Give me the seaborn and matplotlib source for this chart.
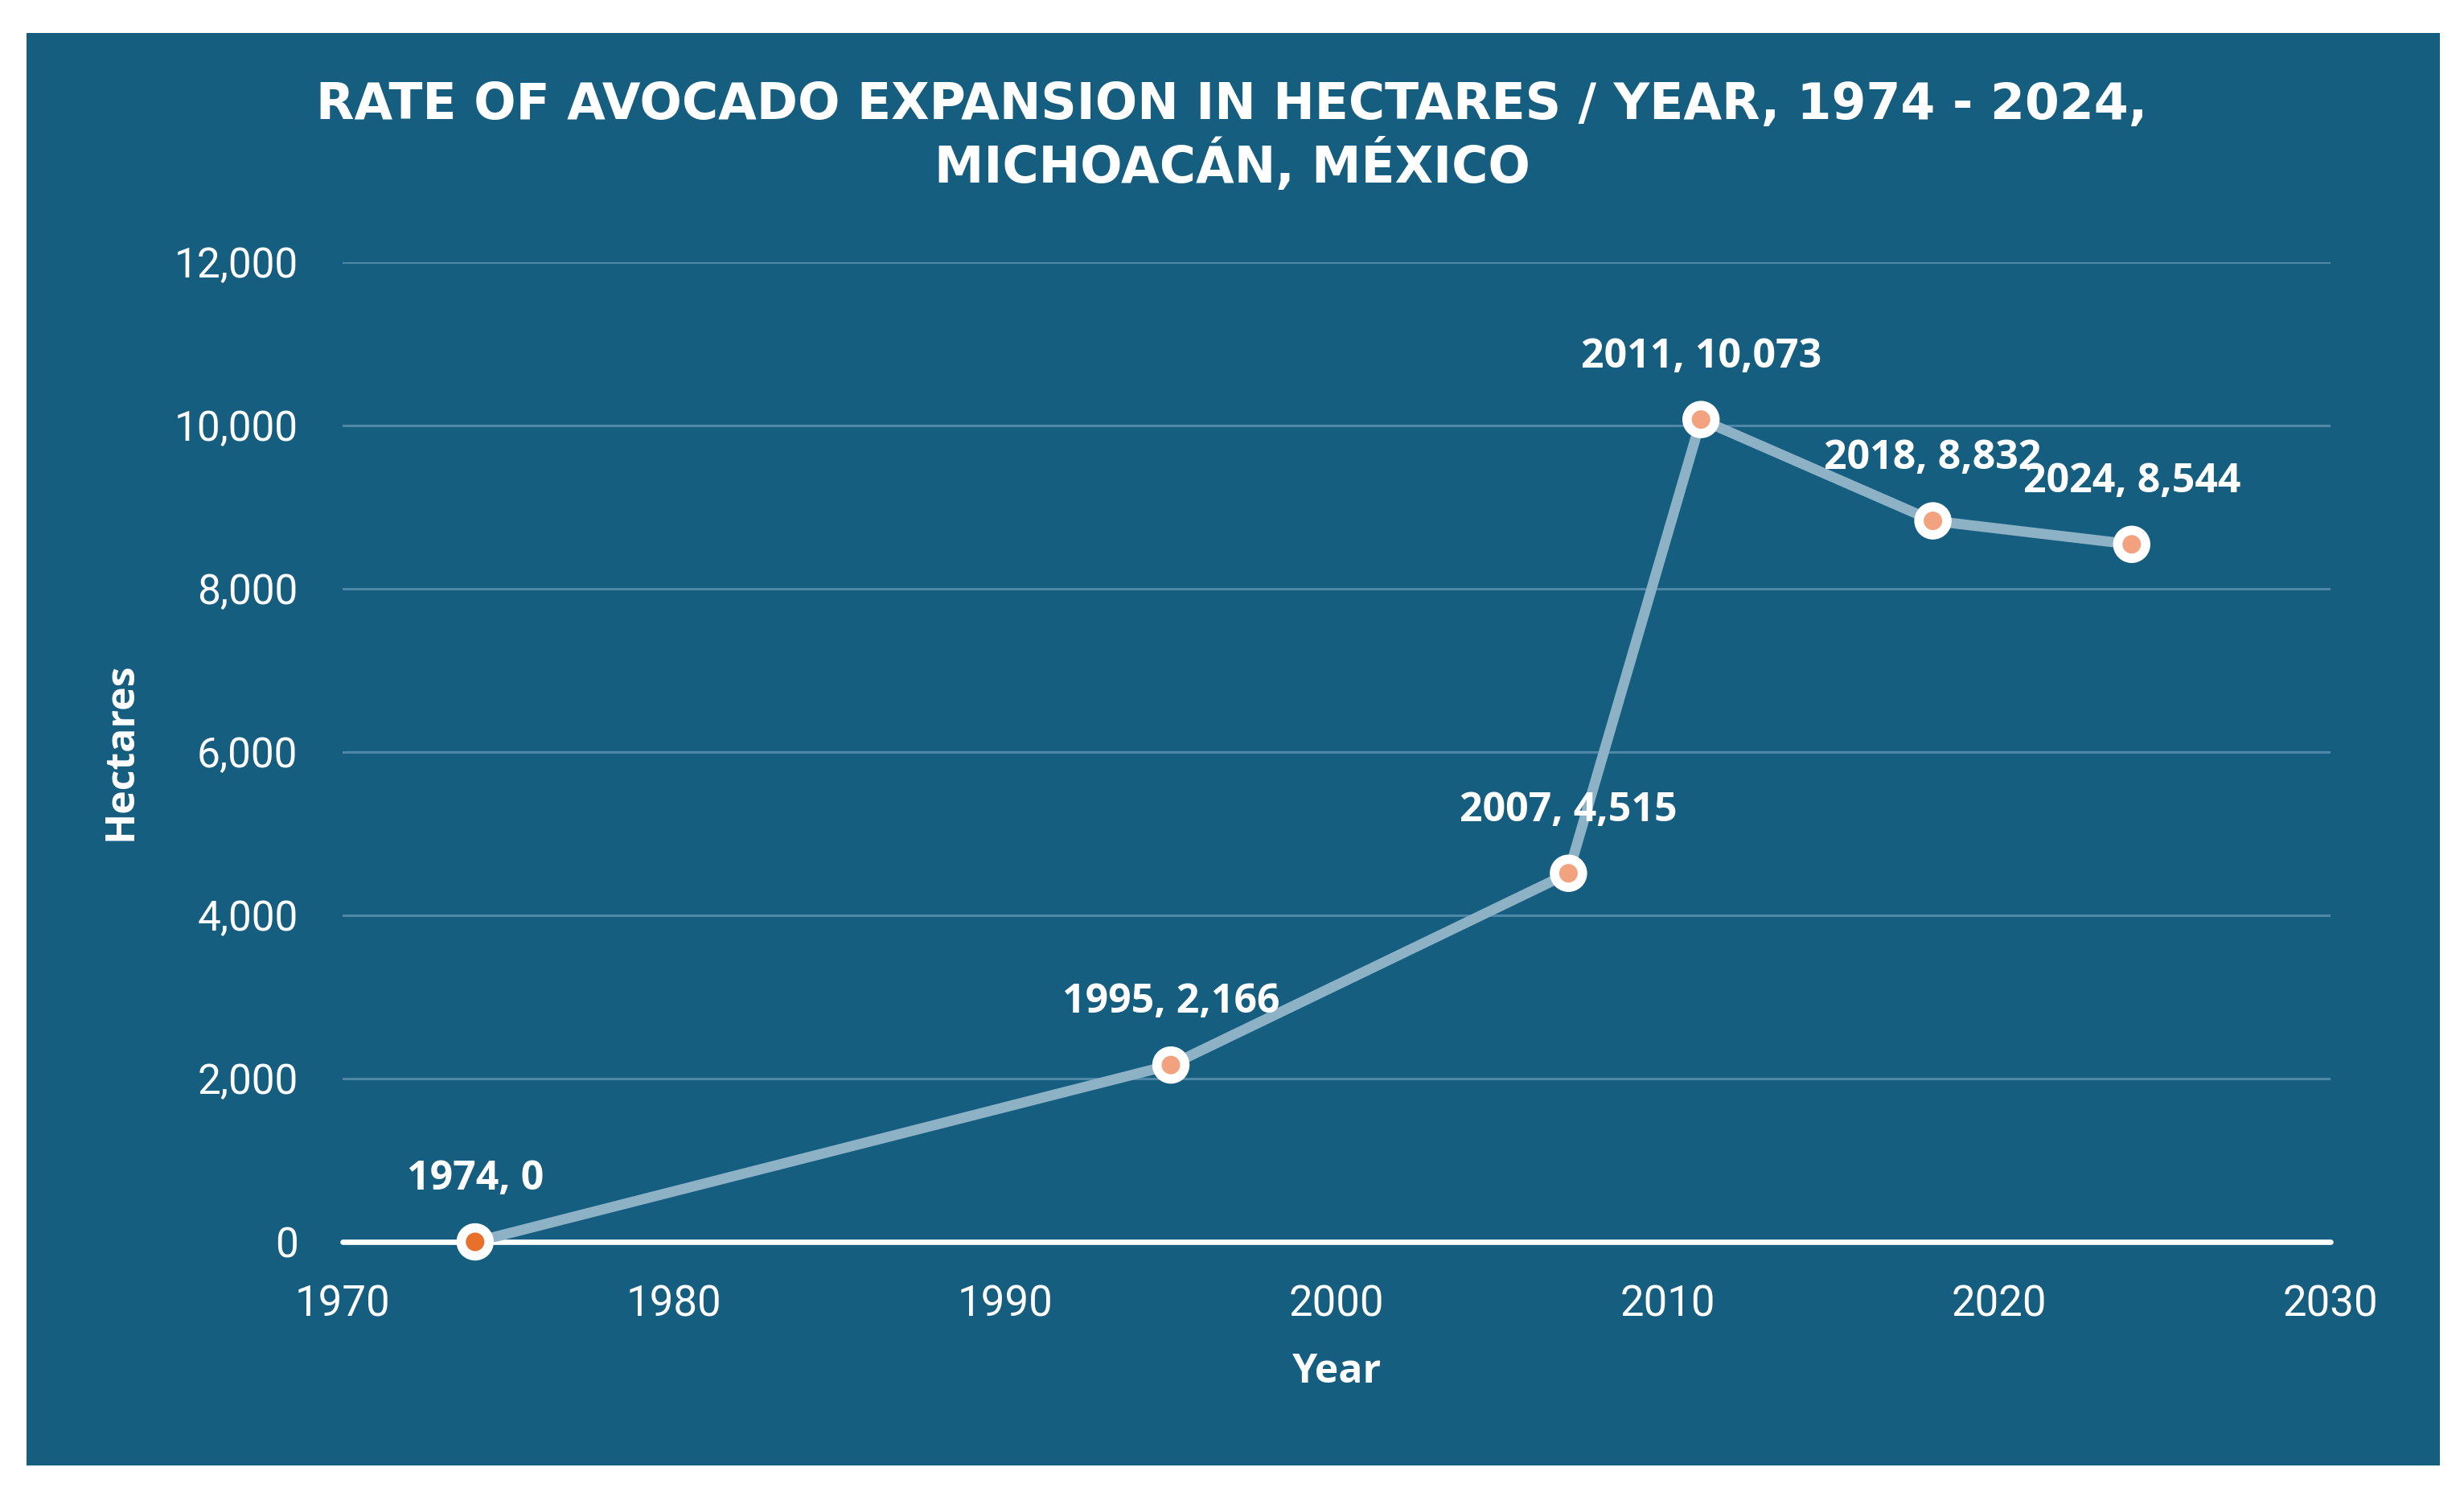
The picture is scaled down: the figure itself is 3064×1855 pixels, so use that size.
import matplotlib
matplotlib.use("Agg")
import matplotlib.pyplot as plt
import seaborn as sns
import pandas as pd
from matplotlib.patches import Rectangle
from matplotlib.ticker import FuncFormatter

# ---- data ----
years = [1974, 1995, 2007, 2011, 2018, 2024]
hectares = [0, 2166, 4515, 10073, 8832, 8544]
y_ticks = [0, 2000, 4000, 6000, 8000, 10000, 12000]
x_ticks = [1970, 1980, 1990, 2000, 2010, 2020, 2030]
title_lines = ["RATE OF AVOCADO EXPANSION IN HECTARES / YEAR, 1974 - 2024,",
               "MICHOACÁN, MÉXICO"]
x_label = "Year"
y_label = "Hectares"

# ---- style ----
BG = "#165E80"
GRID = "#4E88A6"
LINE = "#8DB2C6"
DEEP = "#E8702A"
PEACH = "#F2A27E"
marker_colors = {1974: DEEP, 1995: PEACH, 2007: PEACH, 2011: PEACH, 2018: PEACH, 2024: PEACH}

sns.set_theme(style="white")
plt.rcParams["font.family"] = ["Open Sans", "DejaVu Sans"]

W, H, DPI = 3064, 1855, 200
fig = plt.figure(figsize=(W / DPI, H / DPI), dpi=DPI, facecolor="white")

# dark panel
fig.patches.append(Rectangle((33 / W, 1 - 1822 / H), (3034 - 33) / W, (1822 - 41) / H,
                             transform=fig.transFigure, facecolor=BG, edgecolor="none", zorder=-5))

ax = fig.add_axes([426 / W, 1 - 1544 / H, (2898 - 426) / W, (1544 - 326) / H])
ax.set_facecolor("none")
ax.set_zorder(2)

df = pd.DataFrame({"Year": years, "Hectares": hectares})

# grid lines
for yt in y_ticks[1:]:
    ax.axhline(yt, color=GRID, lw=1.1, zorder=1)
ax.axhline(0, color="white", lw=2.4, zorder=2, clip_on=False)

sns.lineplot(data=df, x="Year", y="Hectares", color=LINE, lw=4.6, ax=ax, zorder=3,
             solid_joinstyle="miter")
sns.scatterplot(data=df, x="Year", y="Hectares", hue="Year", palette=marker_colors,
                s=12.5 ** 2, edgecolor="white", linewidth=4.2, legend=False, ax=ax,
                zorder=5, clip_on=False)

for x, y in zip(years, hectares):
    ax.annotate(f"{x}, {y:,}", (x, y), xytext=(0, 28), textcoords="offset points",
                ha="center", va="center", color="white", fontsize=18, fontweight="bold",
                zorder=6, annotation_clip=False)

ax.set_xlim(1970, 2030)
ax.set_ylim(0, 12000)
ax.set_xticks(x_ticks)
ax.set_yticks(y_ticks)
ax.yaxis.set_major_formatter(FuncFormatter(lambda v, p: f"{int(v):,}"))
ax.tick_params(axis="both", length=0, labelcolor="white")
ax.tick_params(axis="y", pad=20, labelsize=18.5)
ax.tick_params(axis="x", pad=19, labelsize=19)
for lab in ax.get_xticklabels() + ax.get_yticklabels():
    lab.set_fontfamily(["Roboto", "DejaVu Sans"])
    lab.set_fontweight("normal")
    lab.set_color("white")
for s in ax.spines.values():
    s.set_visible(False)
ax.set_xlabel("")
ax.set_ylabel("")

fig.text(1663 / W, 1 - 1706 / H, x_label, ha="center", va="center", color="white",
         fontsize=18, fontweight="bold")
fig.text(150 / W, 1 - 934 / H, y_label, ha="center", va="center", color="white",
         fontsize=18, fontweight="bold", rotation=90)

fig.text(0.5, 1 - 131 / H, title_lines[0], ha="center", va="center", color="white",
         fontsize=22.2, fontweight="bold", family=["DejaVu Sans"])
fig.text(0.5, 1 - 207 / H, title_lines[1], ha="center", va="center", color="white",
         fontsize=22.2, fontweight="bold", family=["DejaVu Sans"])

fig.savefig("out.png", dpi=DPI, facecolor="white")
